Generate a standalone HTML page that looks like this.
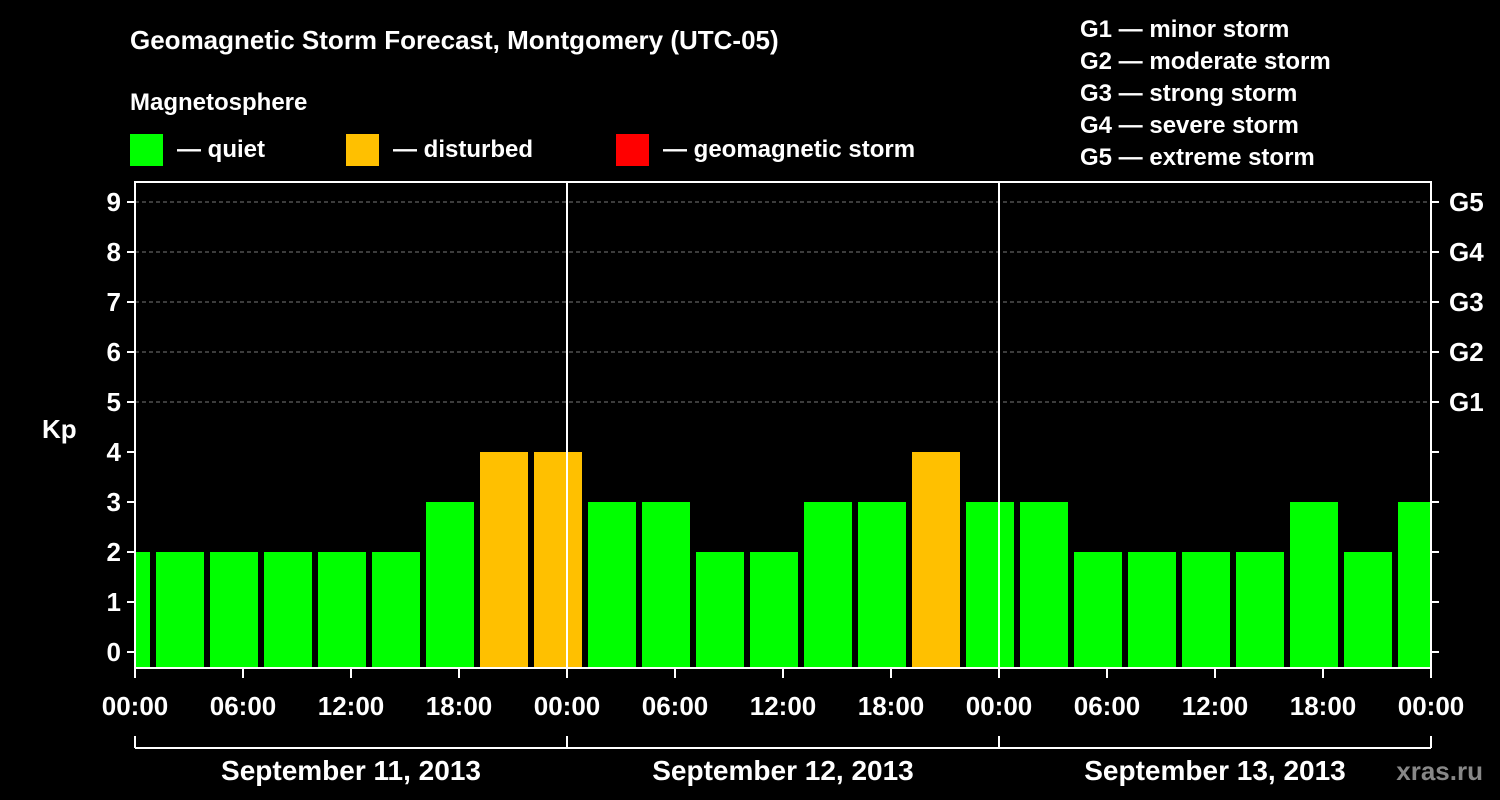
<!DOCTYPE html>
<html><head><meta charset="utf-8"><style>
html,body{margin:0;padding:0;background:#000;}
svg{display:block;font-family:"Liberation Sans",Arial,sans-serif;font-weight:bold;}
</style></head><body>
<svg id="c" width="1500" height="800" viewBox="0 0 1500 800">
<rect width="1500" height="800" fill="#000"/>
<text x="130" y="49" fill="#fff" font-size="26">Geomagnetic Storm Forecast, Montgomery (UTC-05)</text>
<text x="130" y="110" fill="#fff" font-size="24">Magnetosphere</text>
<g><rect x="130" y="134" width="33" height="32" fill="#00ff00"/><text x="177" y="157" fill="#fff" font-size="24">— quiet</text></g>
<g><rect x="346" y="134" width="33" height="32" fill="#ffc000"/><text x="393" y="157" fill="#fff" font-size="24">— disturbed</text></g>
<g><rect x="616" y="134" width="33" height="32" fill="#ff0000"/><text x="663" y="157" fill="#fff" font-size="24">— geomagnetic storm</text></g>
<g fill="#fff" font-size="24">
<text x="1080" y="37">G1 — minor storm</text><text x="1080" y="69">G2 — moderate storm</text><text x="1080" y="101">G3 — strong storm</text><text x="1080" y="133">G4 — severe storm</text><text x="1080" y="165">G5 — extreme storm</text></g>
<text x="42" y="438" fill="#fff" font-size="26">Kp</text>
<text x="1483" y="780" fill="#888" font-size="26" text-anchor="end" font-weight="bold">xras.ru</text>
<g id="plot"></g>
</svg>
<script>
const startHours=[-2,1,4,7,10,13,16,19,22,25,28,31,34,37,40,43,46,49,52,55,58,61,64,67,70];
const kpValues=[2,2,2,2,2,2,3,4,4,3,3,2,2,3,3,4,3,3,2,2,2,2,3,2,3];
const kpTicks=[0,1,2,3,4,5,6,7,8,9];
const gLabels=["G1","G2","G3","G4","G5"];
const timeLabels=["00:00","06:00","12:00","18:00","00:00","06:00","12:00","18:00","00:00","06:00","12:00","18:00","00:00"];
const dateLabels=["September 11, 2013","September 12, 2013","September 13, 2013"];
const X0=135,X1=1431,PT=182,PB=668;
const x=h=>X0+h*(X1-X0)/72;
const y=v=>652-v*50;
const NS="http://www.w3.org/2000/svg";
const g=document.getElementById('plot');
function mk(t,a,p){const e=document.createElementNS(NS,t);for(const k in a)e.setAttribute(k,a[k]);(p||g).appendChild(e);return e;}
kpTicks.forEach(v=>{if(v>=5){const l=mk('line',{x1:X0,x2:X1,y1:y(v),y2:y(v),stroke:'#777','stroke-dasharray':'4,3'});

}});
startHours.forEach((h,i)=>{const a=Math.max(x(h)+3,X0+1),b=Math.min(x(h+3)-3,X1-1);const v=kpValues[i];
const col=v>=5?'#ff0000':(v>=4?'#ffc000':'#00ff00');
const r=mk('rect',{x:a,y:y(v),width:b-a,height:PB-y(v),fill:col});

});
[1,2].forEach(d=>{const l=mk('line',{x1:x(d*24),x2:x(d*24),y1:PT,y2:PB,stroke:'#fff','stroke-width':2});

});
const fr=mk('rect',{x:X0,y:PT,width:X1-X0,height:PB-PT,fill:'none',stroke:'#fff','stroke-width':2});


kpTicks.forEach(v=>{mk('line',{x1:X0-8,x2:X0,y1:y(v),y2:y(v),stroke:'#fff','stroke-width':2});
mk('line',{x1:X1,x2:X1+8,y1:y(v),y2:y(v),stroke:'#fff','stroke-width':2});
const t=mk('text',{x:X0-14,y:y(v)+9,fill:'#fff','font-size':26,'text-anchor':'end'});t.textContent=v;

});
gLabels.forEach((s,i)=>{const t=mk('text',{x:X1+18,y:y(i+5)+9,fill:'#fff','font-size':26});t.textContent=s;

});
timeLabels.forEach((s,i)=>{const xx=x(i*6);mk('line',{x1:xx,x2:xx,y1:PB,y2:PB+10,stroke:'#fff','stroke-width':2});
const t=mk('text',{x:xx,y:715,fill:'#fff','font-size':26,'text-anchor':'middle'});t.textContent=s;

});
const bl=mk('line',{x1:X0,x2:X1,y1:748,y2:748,stroke:'#fff','stroke-width':2});


[0,1,2,3].forEach(d=>mk('line',{x1:x(d*24),x2:x(d*24),y1:736,y2:748,stroke:'#fff','stroke-width':2}));
dateLabels.forEach((s,i)=>{const t=mk('text',{x:x(i*24+12),y:780,fill:'#fff','font-size':28,'text-anchor':'middle'});t.textContent=s;

});
</script>
</body></html>
